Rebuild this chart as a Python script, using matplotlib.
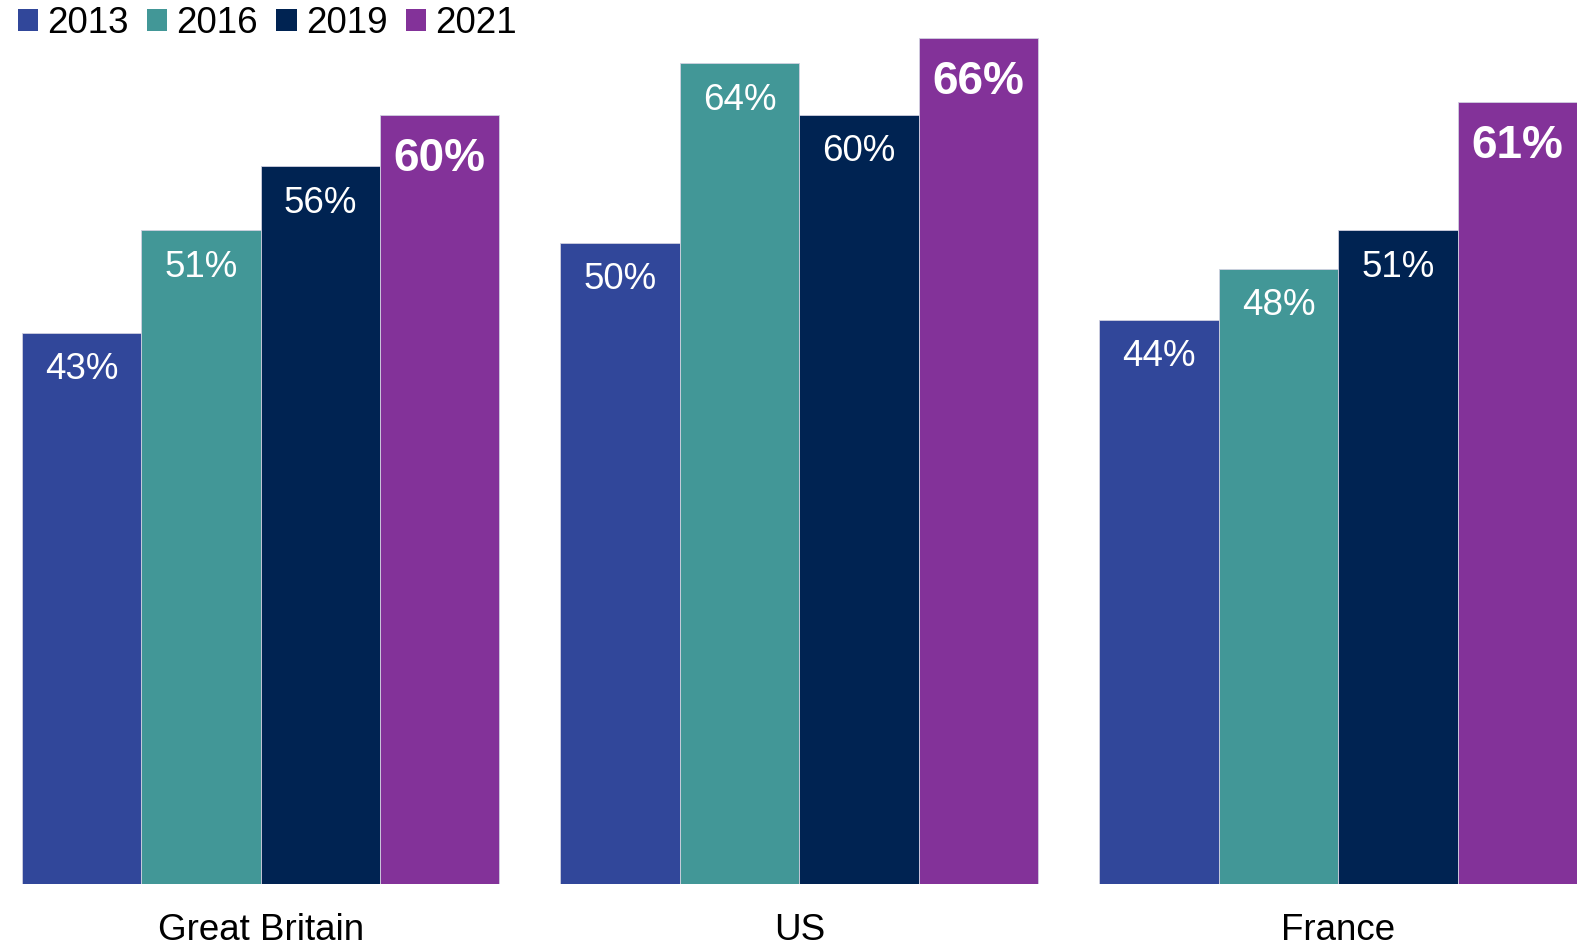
import matplotlib
matplotlib.use("Agg")
import matplotlib.pyplot as plt
from matplotlib.patches import Patch
import numpy as np

plt.rcParams['font.family'] = ['Liberation Sans', 'DejaVu Sans']

countries = ["Great Britain", "US", "France"]
years = ["2013", "2016", "2019", "2021"]
values = {
    "2013": [43, 50, 44],
    "2016": [51, 64, 48],
    "2019": [56, 60, 51],
    "2021": [60, 66, 61],
}
colors = ["#31479A", "#429797", "#002352", "#833299"]

fig = plt.figure(figsize=(15.93, 9.47), dpi=100)
ax = fig.add_axes([0.0136, 0.0665, 0.9764, 0.9335])

x = np.arange(len(countries))
w = 0.2217
for i, (yr, col) in enumerate(zip(years, colors)):
    pos = x + (i - 1.5) * w
    vals = values[yr]
    ax.bar(pos, vals, width=w, color=col, edgecolor="#d0d0e0", linewidth=0.6)
    last = (yr == "2021")
    for px, v in zip(pos, vals):
        if last:
            ax.annotate(f"{v}%", (px, v), xytext=(0, -44 * 0.72), textcoords="offset points",
                        ha="center", va="center", color="white", fontsize=33, fontweight="bold")
        else:
            ax.annotate(f"{v}%", (px, v), xytext=(0, -37 * 0.72), textcoords="offset points",
                        ha="center", va="center", color="white", fontsize=26.5)

ax.set_xlim(-2 * w, 2 + 2 * w)
ax.set_ylim(0, 68.95)
ax.set_xticks(x)
ax.set_xticklabels(countries, fontsize=26.5)
ax.tick_params(axis="x", length=0, pad=21)
ax.set_yticks([])
for s in ax.spines.values():
    s.set_visible(False)

handles = [Patch(facecolor=c, edgecolor="none") for c in colors]
fig.legend(handles, years, loc="upper left", bbox_to_anchor=(0.011, 0.994), ncol=4,
           frameon=False, fontsize=26.5, handlelength=0.55, handleheight=0.55,
           handletextpad=0.25, columnspacing=0.5, borderpad=0, borderaxespad=0)

fig.savefig("out.png", dpi=100)
